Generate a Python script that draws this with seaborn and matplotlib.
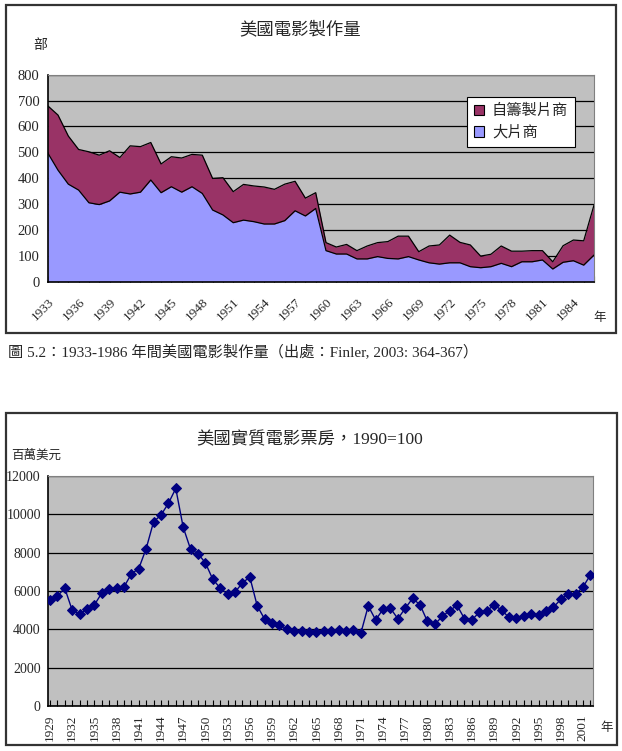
import matplotlib
matplotlib.use("Agg")
import matplotlib.pyplot as plt
import seaborn as sns
import numpy as np
import pandas as pd
from matplotlib.patches import Rectangle

# ---------------------------------------------------------------
# Datos: producción de películas (1933-1986) y taquilla real (1929-2002)
# ---------------------------------------------------------------
years_top = list(range(1933, 1987))
major_studios = [498, 431, 377, 354, 305, 298, 312, 346, 339, 346, 393, 344, 367, 346,
                 367, 341, 277, 258, 228, 238, 232, 223, 223, 236, 274, 254, 283,
                 120, 107, 107, 88, 88, 97, 90, 88, 97, 84, 73, 68, 73, 73, 58, 54,
                 58, 71, 58, 77, 77, 84, 49, 75, 81, 64, 103]
independents = [182, 213, 186, 157, 197, 191, 194, 134, 186, 176, 145, 111, 116, 132,
                125, 148, 122, 144, 120, 138, 138, 143, 134, 141, 114, 69, 61,
                31, 27, 37, 32, 50, 54, 65, 88, 79, 32, 65, 74, 107, 79, 84, 45,
                48, 67, 60, 41, 43, 36, 28, 64, 80, 94, 193]

years_bot = list(range(1929, 2003))
box_office = [5520, 5730, 6150, 5010, 4800, 5050, 5270, 5890, 6100, 6160, 6210, 6890,
              7170, 8210, 9610, 9960, 10570, 11350, 9330, 8180, 7950, 7470, 6610, 6160,
              5830, 5940, 6420, 6730, 5230, 4530, 4320, 4250, 4010, 3890, 3890, 3840,
              3840, 3890, 3890, 3940, 3890, 3940, 3800, 5220, 4490, 5050, 5100, 4550,
              5100, 5620, 5270, 4410, 4270, 4670, 4980, 5250, 4550, 4490, 4890, 4960,
              5270, 5010, 4620, 4580, 4700, 4800, 4750, 4960, 5150, 5560, 5840, 5840,
              6200, 6840]

df_top = pd.DataFrame({"Year": years_top, "Major": major_studios, "Indep": independents})
df_top["Total"] = df_top["Major"] + df_top["Indep"]
df_bot = pd.DataFrame({"Year": years_bot, "Value": box_office})

# ---------------------------------------------------------------
# Estilo
# ---------------------------------------------------------------
sns.set_theme(style="white")
plt.rcParams["font.family"] = ["Liberation Serif", "Noto Sans CJK TC", "DejaVu Sans"]
plt.rcParams["axes.unicode_minus"] = False

W, H = 622, 751
fig = plt.figure(figsize=(W / 100, H / 100), dpi=100)
fig.patch.set_facecolor("white")

def px_axes(x0, y0, x1, y1):
    return fig.add_axes([x0 / W, 1 - y1 / H, (x1 - x0) / W, (y1 - y0) / H])

GRAY = "#C0C0C0"

# ---------------------------------------------------------------
# 1. Gráfico de áreas apiladas
# ---------------------------------------------------------------
ax1 = px_axes(47.7, 74.7, 594, 281.7)
ax1.set_facecolor(GRAY)
ax1.fill_between(df_top["Year"], 0, df_top["Major"], color="#9999FF", zorder=2, lw=0)
ax1.fill_between(df_top["Year"], df_top["Major"], df_top["Total"], color="#993366", zorder=2, lw=0)
sns.lineplot(data=df_top, x="Year", y="Major", ax=ax1, color="black", lw=0.9, zorder=3)
sns.lineplot(data=df_top, x="Year", y="Total", ax=ax1, color="black", lw=0.9, zorder=3)
ax1.set_xlim(1933, 1986)
ax1.set_ylim(0, 800)
ax1.set_yticks(range(0, 801, 100))
ax1.yaxis.grid(True, color="black", lw=0.9)
ax1.set_axisbelow(True)
ax1.set_xticks(years_top)
ax1.set_xticklabels([str(y) if (y - 1933) % 3 == 0 else "" for y in years_top],
                    rotation=45, ha="right", va="top", rotation_mode="anchor", fontsize=9.5)
ax1.tick_params(axis="x", direction="in", length=4, width=0.8, color="black", pad=10, bottom=True)
ax1.tick_params(axis="y", length=0, pad=6, labelsize=10.5)
ax1.set_xlabel("")
ax1.set_ylabel("")
for s in ["top", "right"]:
    ax1.spines[s].set_color("#808080")
    ax1.spines[s].set_linewidth(0.8)
for s in ["left", "bottom"]:
    ax1.spines[s].set_color("black")
    ax1.spines[s].set_linewidth(1.2)

h1 = Rectangle((0, 0), 1, 1, facecolor="#993366", edgecolor="black", lw=0.8)
h2 = Rectangle((0, 0), 1, 1, facecolor="#9999FF", edgecolor="black", lw=0.8)
leg = ax1.legend([h1, h2], ["自籌製片商", "大片商"], loc="upper left",
                 bbox_to_anchor=((466.7 - 47.7) / (594 - 47.7), 1 - (97.3 - 74.7) / 207),
                 frameon=True, fancybox=False, framealpha=1, edgecolor="black",
                 fontsize=11, handlelength=0.7, handleheight=0.7, handletextpad=0.5,
                 borderpad=0.45, labelspacing=0.45, borderaxespad=0)
leg.get_frame().set_linewidth(0.8)

fig.text(300 / W, 1 - 30 / H, "美國電影製作量", ha="center", va="center", fontsize=12.5)
fig.text(40 / W, 1 - 46 / H, "部", ha="center", va="center", fontsize=10)
fig.text(600 / W, 1 - 318 / H, "年", ha="center", va="center", fontsize=9)

fig.text(8 / W, 1 - 353 / H, "圖 5.2：1933-1986 年間美國電影製作量（出處：Finler, 2003: 364-367）",
         ha="left", va="center", fontsize=11)

# ---------------------------------------------------------------
# 2. Gráfico de línea con marcadores
# ---------------------------------------------------------------
ax2 = px_axes(47.7, 476, 593.3, 706)
ax2.set_facecolor(GRAY)
sns.lineplot(data=df_bot, x="Year", y="Value", ax=ax2, color="#000080", lw=1.0,
             marker="D", markersize=5.5, markeredgecolor="#000080", zorder=3)
ax2.set_xlim(1928.7, 2002.4)
ax2.set_ylim(0, 12000)
ax2.set_yticks(range(0, 12001, 2000))
ax2.yaxis.grid(True, color="black", lw=0.9)
ax2.set_axisbelow(True)
ax2.set_xticks(years_bot)
ax2.set_xticklabels([str(y) if (y - 1929) % 3 == 0 else "" for y in years_bot],
                    rotation=90, fontsize=9.5)
ax2.tick_params(axis="x", direction="in", length=4, width=0.8, color="black", pad=6, bottom=True)
ax2.tick_params(axis="y", length=0, pad=5, labelsize=10)
ax2.set_xlabel("")
ax2.set_ylabel("")
for s in ["top", "right"]:
    ax2.spines[s].set_color("#808080")
    ax2.spines[s].set_linewidth(0.8)
for s in ["left", "bottom"]:
    ax2.spines[s].set_color("black")
    ax2.spines[s].set_linewidth(1.2)

fig.text(310 / W, 1 - 440 / H, "美國實質電影票房，1990=100", ha="center", va="center", fontsize=12.5)
fig.text(36 / W, 1 - 456 / H, "百萬美元", ha="center", va="center", fontsize=9)
fig.text(607 / W, 1 - 728 / H, "年", ha="center", va="center", fontsize=9)

# ---------------------------------------------------------------
# Marcos de cada gráfico
# ---------------------------------------------------------------
for (x0, y0, x1, y1) in [(6, 5, 616, 333), (6, 413, 617, 745)]:
    fig.patches.append(Rectangle((x0 / W, 1 - y1 / H), (x1 - x0) / W, (y1 - y0) / H,
                                 transform=fig.transFigure, fill=False,
                                 edgecolor="#333333", lw=1.6, zorder=0))

plt.savefig("out.png", dpi=100)
